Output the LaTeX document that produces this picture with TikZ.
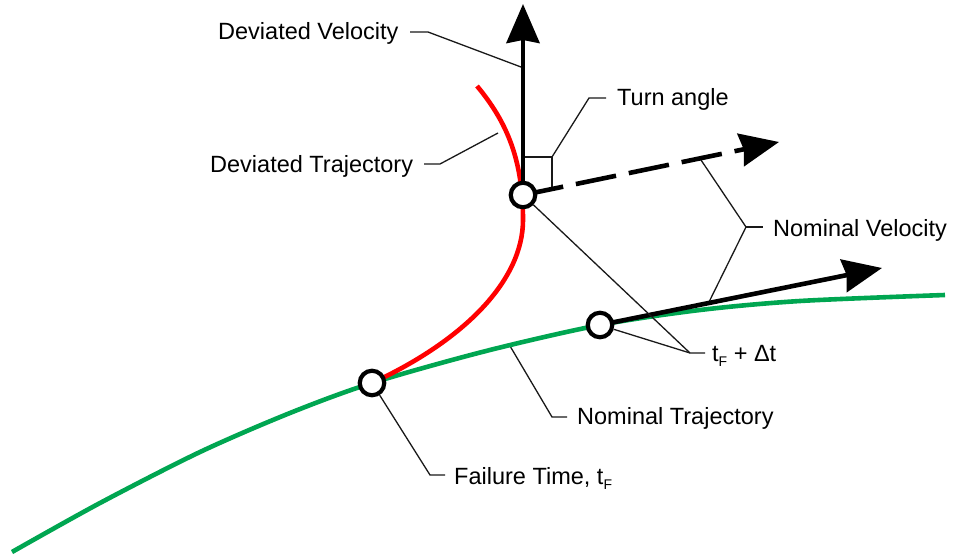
\documentclass[tikz,border=0pt]{standalone}
\usepackage{fontspec}
\setmainfont{Liberation Sans}
\usetikzlibrary{arrows.meta}
\definecolor{trajgreen}{RGB}{0,166,81}
\definecolor{trajred}{RGB}{255,0,0}
\newcommand{\subF}{\raisebox{-5.5pt}{\fontsize{14}{14}\selectfont F}}
\begin{document}
\begin{tikzpicture}[x=1pt,y=-1pt,
  lbl/.style={anchor=base west, inner sep=0pt, font=\fontsize{23.5}{28}\selectfont},
  leader/.style={line width=1.3pt, black!90},
  traj/.style={line width=4.6pt},
  vel/.style={line width=4.6pt, -{Stealth[length=39pt,width=33pt,inset=3pt]}},
  pt/.style={circle, draw, line width=4.2pt, fill=white, minimum size=24.5pt, inner sep=0pt}
]
\useasboundingbox (0,0) rectangle (953,559);

% centres of the marked points
\coordinate (Fc) at (372,383);
\coordinate (Ac) at (600,325);
\coordinate (Dc) at (523,195);

% leader geometry
\coordinate (dv1) at (410,32);  \coordinate (dv2) at (428,32);  \coordinate (dv3) at (521,67);
\coordinate (dt1) at (424,164); \coordinate (dt2) at (440,164); \coordinate (dt3) at (498,133);
\coordinate (ta0) at (523,157); \coordinate (ta1) at (552,157); \coordinate (ta2) at (552,187);
\coordinate (ta3) at (589,98);  \coordinate (ta4) at (606,98);
\coordinate (nv0) at (701,160); \coordinate (nv1) at (746,227); \coordinate (nv2) at (763,227);
\coordinate (nv3) at (709,302);
\coordinate (td1) at (690,353); \coordinate (td2) at (705,353);
\coordinate (nt0) at (510,346); \coordinate (nt1) at (552,417); \coordinate (nt2) at (567,417);
\coordinate (ft1) at (430,475); \coordinate (ft2) at (445,475);

% arrow tips
\coordinate (vtip) at (523,4);
\coordinate (dtip) at (779,142);
\coordinate (stip) at (882,268);

% labels
\node[lbl] (tDV) at (218,39.5) {Deviated Velocity};
\node[lbl] (tDT) at (210,172.5) {Deviated Trajectory};
\node[lbl] (tTA) at (617,106) {Turn angle};
\node[lbl] (tNV) at (773,236) {Nominal Velocity};
\node[lbl] (tTD) at (712,361) {t\subF{} + Δt};
\node[lbl] (tNT) at (577,424) {Nominal Trajectory};
\node[lbl] (tFT) at (454,484) {Failure Time, t\subF};

% leaders below the thick lines
\draw[leader] (dv1) -- (dv2) -- (dv3);
\draw[leader] (dt1) -- (dt2) -- (dt3);
\draw[leader] (ta0) -- (ta1) -- (ta2);
\draw[leader] (ta1) -- (ta3) -- (ta4);
\draw[leader] (nv0) -- (nv1) -- (nv3);
\draw[leader] (nv1) -- (nv2);
\draw[leader] (nt0) -- (nt1) -- (nt2);

% trajectories
\draw[traj, trajgreen] plot[smooth, tension=0.5] coordinates {(12,552) (100,503) (200,452) (290,413) (372,383) (486,351) (600,325) (700,310) (800,301) (945,295)};
\draw[traj, trajred] (Fc) .. controls (465,340) and (523,280) .. (523,220)
  .. controls (523,160) and (507,122) .. (477,86);

% velocities
\draw[vel] (Dc) -- (vtip);
\draw[vel, dash pattern=on 41pt off 13pt] (Dc) -- (dtip);
\draw[vel] (Ac) -- (stip);

% points
\node[pt] (F) at (Fc) {};
\node[pt] (A) at (Ac) {};
\node[pt] (D) at (Dc) {};

% leaders from points
\draw[leader] (D) -- (td1);
\draw[leader] (A) -- (td1) -- (td2);
\draw[leader] (F) -- (ft1) -- (ft2);
\end{tikzpicture}
\end{document}
